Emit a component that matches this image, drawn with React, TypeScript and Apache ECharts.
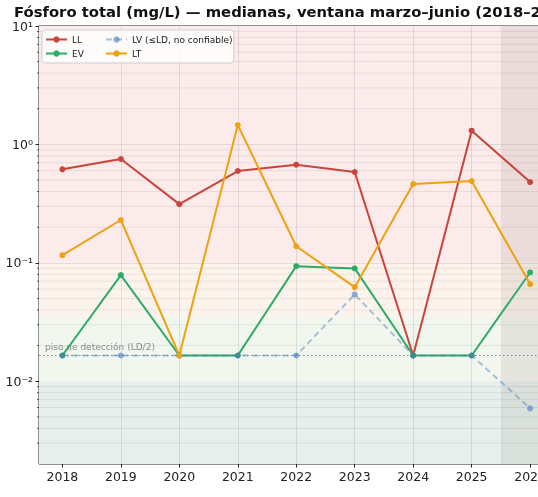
import React, { useEffect, useRef } from 'react';
import * as echarts from 'echarts';

const YEARS = [2018, 2019, 2020, 2021, 2022, 2023, 2024, 2025, 2026];
const LD_HALF = 0.0165;
const LL = [0.616, 0.753, 0.313, 0.596, 0.674, 0.584, 0.0165, 1.306, 0.481];
const EV = [0.0165, 0.0787, 0.0165, 0.0165, 0.0937, 0.0897, 0.0165, 0.0165, 0.0829];
const LV = [0.0165, 0.0165, 0.0165, 0.0165, 0.0165, 0.0541, 0.0165, 0.0165, 0.00591];
const LT = [0.116, 0.23, 0.0165, 1.459, 0.138, 0.0623, 0.463, 0.491, 0.0661];
const Y_TICKS = [0.01, 0.1, 1, 10];
const Y_TICK_LABELS = ['10⁻²', '10⁻¹', '10⁰', '10¹'];
const BAND_LIMITS = [0.002, 0.01, 0.035, 0.1, 10];
const PARTIAL_START = 2025.5;
const X_MIN = 2017.6;
const X_MAX = 2026.4;
const Y_MIN = 0.002;
const Y_MAX = 10;
const TITLE = 'Fósforo total (mg/L) — medianas, ventana marzo–junio (2018–2026)';
const FLOOR_LABEL = 'piso de detección (LD/2)';
const LV_NAME = 'LV (≤LD, no confiable)';

const FONT = 'DejaVu Sans';
const BAND_COLORS = ['#e6efeb', '#f1f6ee', '#fcf3ec', '#fbebeb'];
const PARTIAL_COLOR = 'rgba(60,40,40,0.08)';

function minorTicks(): number[] {
  const out: number[] = [];
  for (let k = -3; k <= 0; k++) {
    for (let m = 2; m <= 9; m++) {
      const v = m * Math.pow(10, k);
      if (v > Y_MIN * 1.0001 && v < Y_MAX) out.push(v);
    }
  }
  return out;
}

export default function App() {
  const ref = useRef<HTMLDivElement>(null);
  useEffect(() => {
    if (!ref.current) return;
    const chart = echarts.init(ref.current, undefined, { renderer: 'svg' });
    const pts = (arr: number[]) => YEARS.map((y, i) => [y, arr[i]]);
    const bandData: number[][] = [];
    for (let i = 0; i < BAND_LIMITS.length - 1; i++) {
      bandData.push([X_MIN, BAND_LIMITS[i], X_MAX, BAND_LIMITS[i + 1]]);
    }
    bandData.push([PARTIAL_START, Y_MIN, X_MAX, Y_MAX]);
    const lineCommon = {
      type: 'line',
      symbol: 'circle',
      symbolSize: 6,
      z: 3,
    };
    const option: any = {
      animation: false,
      title: {
        text: TITLE,
        left: 14,
        top: 4,
        padding: 0,
        textStyle: { fontFamily: FONT, fontWeight: 'bold', fontSize: 14.8, color: '#111' },
      },
      grid: {
        left: 39,
        top: 26,
        width: 514.5,
        height: 438,
        show: true,
        borderColor: '#222',
        borderWidth: 1,
        backgroundColor: 'transparent',
      },
      legend: [
        {
          data: ['LL', 'EV'],
          orient: 'vertical',
          left: 42,
          top: 30,
          padding: [5, 150, 5, 3],
          itemWidth: 21,
          itemHeight: 8,
          itemGap: 5,
          backgroundColor: 'rgba(255,255,255,0.8)',
          borderColor: '#d0d0d0',
          borderWidth: 1,
          borderRadius: 3,
          textStyle: { fontFamily: FONT, fontSize: 9, color: '#222' },
        },
        {
          data: [LV_NAME, 'LT'],
          orient: 'vertical',
          left: 105,
          top: 35,
          padding: 0,
          itemWidth: 21,
          itemHeight: 8,
          itemGap: 5,
          textStyle: { fontFamily: FONT, fontSize: 9, color: '#222' },
        },
      ],
      xAxis: {
        type: 'value',
        min: X_MIN,
        max: X_MAX,
        minInterval: 1,
        maxInterval: 1,
        splitNumber: 9,
        z: 1,
        axisLine: { show: false },
        axisTick: {
          show: true,
          customValues: YEARS,
          length: 3.5,
          lineStyle: { color: '#222', width: 1 },
        },
        axisLabel: {
          customValues: YEARS,
          margin: 6,
          fontFamily: FONT,
          fontSize: 12.5,
          color: '#222',
          formatter: (v: number) => String(Math.round(v)),
        },
        splitLine: {
          show: true,
          showMinLine: false,
          showMaxLine: false,
          lineStyle: { color: 'rgba(0,0,0,0.09)', width: 1 },
        },
      },
      yAxis: {
        type: 'log',
        logBase: 10,
        min: Y_MIN,
        max: Y_MAX,
        z: 1,
        axisLine: { show: false },
        axisTick: {
          show: true,
          customValues: Y_TICKS,
          length: 3.5,
          lineStyle: { color: '#222', width: 1 },
        },
        axisLabel: {
          customValues: Y_TICKS,
          margin: 6,
          fontFamily: FONT,
          fontSize: 12.5,
          color: '#222',
          formatter: (v: number) => {
            const idx = Y_TICKS.findIndex((t) => Math.abs(Math.log10(t) - Math.log10(v)) < 1e-6);
            return idx >= 0 ? Y_TICK_LABELS[idx] : '';
          },
        },
        splitLine: {
          show: true,
          showMinLine: false,
          showMaxLine: false,
          lineStyle: { color: 'rgba(0,0,0,0.09)', width: 1 },
        },
      },
      series: [
        {
          name: 'bands',
          type: 'custom',
          silent: true,
          z: 0,
          data: bandData,
          renderItem: (params: any, api: any) => {
            const p0 = api.coord([api.value(0), api.value(1)]);
            const p1 = api.coord([api.value(2), api.value(3)]);
            const color =
              params.dataIndex < BAND_COLORS.length ? BAND_COLORS[params.dataIndex] : PARTIAL_COLOR;
            return {
              type: 'rect',
              shape: {
                x: Math.min(p0[0], p1[0]),
                y: Math.min(p0[1], p1[1]),
                width: Math.abs(p1[0] - p0[0]),
                height: Math.abs(p1[1] - p0[1]),
              },
              style: { fill: color },
            };
          },
        },
        {
          name: 'minor',
          type: 'custom',
          silent: true,
          clip: false,
          z: 1,
          data: minorTicks().map((v) => [X_MIN, v]),
          renderItem: (params: any, api: any) => {
            const v = api.value(1);
            const a = api.coord([X_MIN, v]);
            const b = api.coord([X_MAX, v]);
            return {
              type: 'group',
              children: [
                {
                  type: 'line',
                  shape: { x1: a[0], y1: a[1], x2: b[0], y2: b[1] },
                  style: { stroke: 'rgba(0,0,0,0.07)', lineWidth: 1 },
                },
                {
                  type: 'line',
                  shape: { x1: a[0] - 2, y1: a[1], x2: a[0], y2: a[1] },
                  style: { stroke: '#333', lineWidth: 0.8 },
                },
              ],
            };
          },
        },
        {
          name: 'floor',
          type: 'custom',
          silent: true,
          z: 2,
          data: [[X_MIN, LD_HALF, X_MAX]],
          renderItem: (params: any, api: any) => {
            const a = api.coord([api.value(0), api.value(1)]);
            const b = api.coord([api.value(2), api.value(1)]);
            return {
              type: 'group',
              children: [
                {
                  type: 'line',
                  shape: { x1: a[0], y1: a[1], x2: b[0], y2: b[1] },
                  style: { stroke: '#888', lineWidth: 1.2, lineDash: [1.5, 2.5] },
                },
                {
                  type: 'text',
                  style: {
                    text: FLOOR_LABEL,
                    x: a[0] + 6,
                    y: a[1] - 3.5,
                    fill: '#8a8a8a',
                    fontFamily: FONT,
                    fontSize: 9,
                    align: 'left',
                    verticalAlign: 'bottom',
                  },
                },
              ],
            };
          },
        },
        {
          ...lineCommon,
          name: 'LL',
          data: pts(LL),
          itemStyle: { color: '#c9443a' },
          lineStyle: { color: '#c9443a', width: 2 },
        },
        {
          ...lineCommon,
          name: 'EV',
          data: pts(EV),
          itemStyle: { color: '#2eab66' },
          lineStyle: { color: '#2eab66', width: 2 },
        },
        {
          ...lineCommon,
          name: LV_NAME,
          data: pts(LV),
          itemStyle: { color: 'rgba(70,125,185,0.6)' },
          lineStyle: { color: 'rgba(70,125,185,0.45)', width: 2, type: [6, 4] },
        },
        {
          ...lineCommon,
          name: 'LT',
          data: pts(LT),
          itemStyle: { color: '#eea20f' },
          lineStyle: { color: '#eea20f', width: 2 },
        },
      ],
    };
    chart.setOption(option);
    return () => chart.dispose();
  }, []);
  return (
    <div
      ref={ref}
      style={{ position: 'fixed', left: 0, top: 0, width: 570, height: 497 }}
    />
  );
}
